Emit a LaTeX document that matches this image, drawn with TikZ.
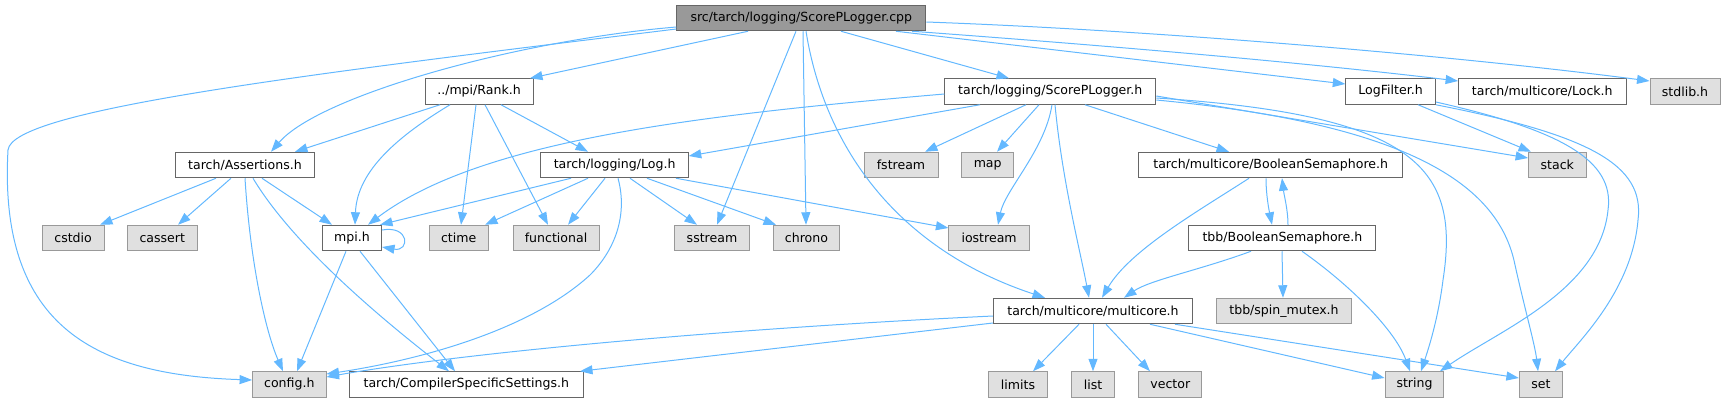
\documentclass[tikz,border=0pt]{standalone}
\usepackage{fontspec}
\setmainfont{DejaVu Sans}
\usetikzlibrary{arrows.meta}
\definecolor{edgec}{HTML}{63B8FF}
\definecolor{wborder}{HTML}{666666}
\definecolor{gborder}{HTML}{999999}
\definecolor{gfill}{HTML}{E0E0E0}
\definecolor{rootfill}{HTML}{999999}
\begin{document}
\begin{tikzpicture}[x=1bp,y=-1bp,
  box/.style={draw, line width=1bp, minimum height=25.5bp, inner sep=0pt,
    font=\fontsize{12.6}{14}\selectfont, anchor=center},
  wbox/.style={box, draw=wborder, fill=white},
  gbox/.style={box, draw=gborder, fill=gfill},
  rbox/.style={box, draw=wborder, fill=rootfill},
  edge/.style={draw=edgec, line width=1bp, -{Triangle[length=12.5bp,width=9bp]}, edgec}
]
\useasboundingbox (0,0) rectangle (1726,403);
% row 0
\node[rbox, minimum width=249bp] (root) at (801.3,18) {src/tarch/logging/ScorePLogger.cpp};
% row 1
\node[wbox, minimum width=108bp] (rank) at (479,91.5) {../mpi/Rank.h};
\node[wbox, minimum width=211bp] (spl) at (1050.3,91.5) {tarch/logging/ScorePLogger.h};
\node[wbox, minimum width=89.6bp] (logf) at (1390.6,91.5) {LogFilter.h};
\node[wbox, minimum width=167.4bp] (lock) at (1542.3,91.5) {tarch/multicore/Lock.h};
\node[gbox, minimum width=70bp] (stdlib) at (1685,91.5) {stdlib.h};
% row 2
\node[wbox, minimum width=139.4bp] (assert) at (245,165) {tarch/Assertions.h};
\node[wbox, minimum width=147.3bp] (logh) at (614.6,165) {tarch/logging/Log.h};
\node[gbox, minimum width=74bp] (fstream) at (901,165) {fstream};
\node[gbox, minimum width=51.7bp] (map) at (987.7,165) {map};
\node[wbox, minimum width=264bp] (bsem) at (1270.7,165) {tarch/multicore/BooleanSemaphore.h};
\node[gbox, minimum width=57.4bp] (stack) at (1557.3,165) {stack};
% row 3
\node[gbox, minimum width=62bp] (cstdio) at (73.1,238) {cstdio};
\node[gbox, minimum width=69.7bp] (cassert) at (162.3,238) {cassert};
\node[wbox, minimum width=59.3bp] (mpi) at (351.9,238) {mpi.h};
\node[gbox, minimum width=58.6bp] (ctime) at (458.7,238) {ctime};
\node[gbox, minimum width=86bp] (functional) at (556,238) {functional};
\node[gbox, minimum width=75bp] (sstream) at (712,238) {sstream};
\node[gbox, minimum width=66.6bp] (chrono) at (806.5,238) {chrono};
\node[gbox, minimum width=80.4bp] (iostream) at (989.1,238) {iostream};
\node[wbox, minimum width=187bp] (tbbbs) at (1282.4,238) {tbb/BooleanSemaphore.h};
% row 4
\node[wbox, minimum width=199.3bp] (mc) at (1093,311) {tarch/multicore/multicore.h};
\node[gbox, minimum width=134.8bp] (spin) at (1284,311) {tbb/spin\_mutex.h};
% row 5
\node[gbox, minimum width=73.4bp] (config) at (289.3,384.5) {config.h};
\node[wbox, minimum width=233.8bp] (css) at (466.3,384.5) {tarch/CompilerSpecificSettings.h};
\node[gbox, minimum width=59bp] (limits) at (1018,384.5) {limits};
\node[gbox, minimum width=43bp] (list) at (1093,384.5) {list};
\node[gbox, minimum width=63bp] (vector) at (1170.3,384.5) {vector};
\node[gbox, minimum width=58.8bp] (string) at (1414.5,384.5) {string};
\node[gbox, minimum width=43.3bp] (set) at (1541,384.5) {set};

% root edges
\path[edge] (root.south -| 748,0) -- (rank.north -| 530,0);
\path[edge] (root.west |- 0,27) .. controls (520,40) and (320,95) .. (assert.north -| 271,0);
\path[edge] (root.west |- 0,29) .. controls (300,75) and (12,110) .. (8,150) .. controls (-2,330) and (100,375) .. (config.west |- 0,380);
\path[edge] (root.south -| 796,0) -- (sstream.north -| 717,0);
\path[edge] (root.south -| 803,0) -- (chrono.north -| 806,0);
\path[edge] (root.south -| 806,0) .. controls (825,150) and (900,250) .. (mc.north -| 1045,0);
\path[edge] (root.south -| 841,0) -- (spl.north -| 1009,0);
\path[edge] (root.south -| 896,0) -- (logf.west |- 0,84);
\path[edge] (root.south -| 912,0) .. controls (1100,45) and (1300,62) .. (lock.west |- 0,81);
\path[edge] (root.east |- 0,22) .. controls (1150,30) and (1450,55) .. (stdlib.west |- 0,81);
% Rank.h
\path[edge] (rank.south -| 440,0) -- (assert.north -| 295,0);
\path[edge] (rank.south -| 450,0) .. controls (400,135) and (357,170) .. (mpi.north -| 355,0);
\path[edge] (rank.south -| 476,0) -- (ctime.north -| 461,0);
\path[edge] (rank.south -| 485,0) -- (functional.north -| 548,0);
\path[edge] (rank.south -| 501,0) -- (logh.north -| 588,0);
% Assertions.h
\path[edge] (assert.south -| 216,0) -- (cstdio.north -| 100,0);
\path[edge] (assert.south -| 231,0) -- (cassert.north -| 178,0);
\path[edge] (assert.south -| 262,0) -- (mpi.north -| 332,0);
\path[edge] (assert.south -| 245,0) .. controls (250,260) and (265,330) .. (config.north -| 283,0);
\path[edge] (assert.south -| 253,0) .. controls (290,240) and (370,310) .. (css.north -| 449,0);
% mpi.h
\path[edge] (mpi.east |- 0,230) .. controls (410,225) and (410,252) .. (mpi.east |- 0,247);
\path[edge] (mpi.south -| 346,0) -- (config.north -| 297,0);
\path[edge] (mpi.south -| 360,0) -- (css.north -| 455,0);
% Log.h
\path[edge] (logh.south -| 571,0) -- (mpi.north -| 380,0);
\path[edge] (logh.south -| 588,0) -- (ctime.north -| 485,0);
\path[edge] (logh.south -| 605,0) -- (functional.north -| 568,0);
\path[edge] (logh.south -| 618,0) .. controls (628,215) and (615,250) .. (590,275) .. controls (530,330) and (420,360) .. (config.east |- 0,374);
\path[edge] (logh.south -| 630,0) -- (sstream.north -| 697,0);
\path[edge] (logh.south -| 647,0) -- (chrono.north -| 776,0);
\path[edge] (logh.south -| 676,0) -- (iostream.west |- 0,228);
% ScorePLogger.h
\path[edge] (spl.west |- 0,94) .. controls (700,115) and (480,140) .. (mpi.north -| 368,0);
\path[edge] (spl.south -| 980,0) -- (logh.east |- 0,156);
\path[edge] (spl.south -| 1026,0) -- (fstream.north -| 925,0);
\path[edge] (spl.south -| 1039,0) -- (map.north -| 997,0);
\path[edge] (spl.south -| 1052,0) .. controls (1045,150) and (1005,190) .. (iostream.north -| 998,0);
\path[edge] (spl.south -| 1055,0) .. controls (1062,180) and (1080,250) .. (mc.north -| 1089,0);
\path[edge] (spl.south -| 1085,0) -- (bsem.north -| 1229,0);
\path[edge] (spl.east |- 0,96) -- (stack.west |- 0,158);
\path[edge] (spl.east |- 0,98) .. controls (1420,115) and (1460,170) .. (1443,280) .. controls (1438,320) and (1428,350) .. (string.north -| 1421,0);
\path[edge] (spl.east |- 0,100) .. controls (1420,125) and (1500,190) .. (1515,265) .. controls (1525,310) and (1535,345) .. (set.north -| 1538,0);
% LogFilter.h
\path[edge] (logf.south -| 1418,0) -- (stack.north -| 1531,0);
\path[edge] (logf.east |- 0,102) .. controls (1560,130) and (1615,160) .. (1608,210) .. controls (1600,290) and (1500,330) .. (string.north -| 1440,0);
\path[edge] (logf.south east) .. controls (1590,135) and (1645,165) .. (1638,220) .. controls (1632,290) and (1580,340) .. (set.north -| 1555,0);
% BooleanSemaphore.h
\path[edge] (bsem.south -| 1249,0) .. controls (1200,210) and (1130,250) .. (mc.north -| 1102,0);
\path[edge] (bsem.south -| 1266,0) .. controls (1266,195) and (1269,210) .. (tbbbs.north -| 1272,0);
% tbb/BooleanSemaphore.h
\path[edge] (tbbbs.north -| 1288,0) .. controls (1288,210) and (1284,195) .. (bsem.south -| 1282,0);
\path[edge] (tbbbs.south -| 1251,0) .. controls (1200,270) and (1150,280) .. (mc.north -| 1124,0);
\path[edge] (tbbbs.south -| 1282,0) -- (spin.north -| 1283,0);
\path[edge] (tbbbs.south -| 1302,0) .. controls (1350,285) and (1395,330) .. (string.north -| 1410,0);
% multicore.h
\path[edge] (mc.west |- 0,316) .. controls (700,330) and (450,355) .. (config.east |- 0,377);
\path[edge] (mc.west |- 0,323) -- (css.north -| 580,0);
\path[edge] (mc.south -| 1079,0) -- (limits.north -| 1033,0);
\path[edge] (mc.south -| 1093,0) -- (list.north);
\path[edge] (mc.south -| 1106,0) -- (vector.north -| 1150,0);
\path[edge] (mc.south -| 1150,0) -- (string.west |- 0,378);
\path[edge] (mc.south -| 1175,0) -- (set.west |- 0,378);
\end{tikzpicture}
\end{document}
